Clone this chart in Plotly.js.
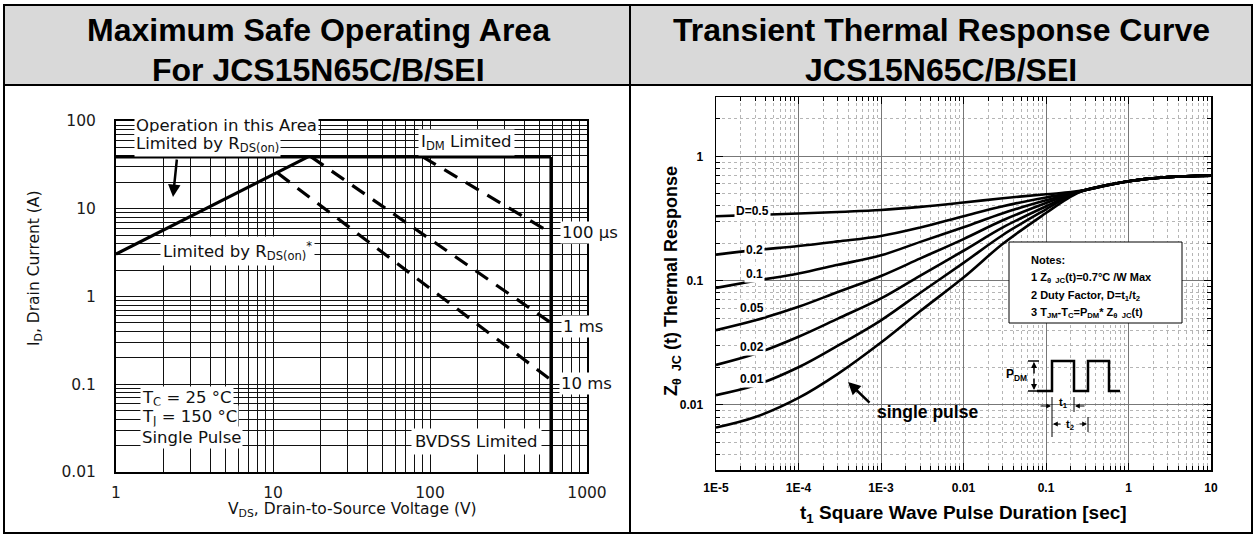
<!DOCTYPE html>
<html><head><meta charset="utf-8">
<script src="https://cdn.plot.ly/plotly-3.0.1.min.js"></script>
<style>html,body{margin:0;padding:0;background:#fff}#c{width:1256px;height:536px}</style>
</head><body><div id="c"></div>
<script>
// ---------------- DATA ----------------
// Left chart: Maximum Safe Operating Area (VDS in V, ID in A)
const soaXTicks = [1, 10, 100, 1000];
const soaXTickText = ['1', '10', '100', '1000'];
const soaYTicks = [0.01, 0.1, 1, 10, 100];
const soaYTickText = ['0.01', '0.1', '1', '10', '100'];
const rdsV = [1, 16.7];      const rdsI = [3.05, 39];
const idmV = [1, 590];       const idmI = [39, 39];
const bvV = [590, 590];      const bvI = [39, 0.01];
const us100V = [90, 590];    const us100I = [39, 5.3];
const ms1V = [17.5, 590];    const ms1I = [39, 0.5];
const ms10V = [10.7, 590];   const ms10I = [25.5, 0.112];

// Right chart: Transient Thermal Response (t in s, Z normalized)
const ttrT =    [1e-5,   3e-5,   1e-4,   3e-4,   1e-3,   3e-3,  0.01,  0.03,  0.1,   0.2,   0.3,   1,    3,    10];
const zD05 =    [0.330,  0.338,  0.347,  0.357,  0.370,  0.392, 0.425, 0.460, 0.495, 0.515, 0.535, 0.63, 0.68, 0.70];
const zD02 =    [0.162,  0.176,  0.190,  0.207,  0.229,  0.268, 0.330, 0.397, 0.467, 0.505, 0.535, 0.63, 0.68, 0.70];
const zD01 =    [0.0875, 0.0997, 0.114,  0.134,  0.160,  0.205, 0.269, 0.349, 0.443, 0.500, 0.535, 0.63, 0.68, 0.70];
const zD005 =   [0.040,  0.048,  0.0616, 0.081,  0.109,  0.151, 0.216, 0.306, 0.421, 0.495, 0.535, 0.63, 0.68, 0.70];
const zD002 =   [0.021,  0.0258, 0.0354, 0.0495, 0.072,  0.110, 0.174, 0.268, 0.397, 0.490, 0.535, 0.63, 0.68, 0.70];
const zD001 =   [0.012,  0.0144, 0.0201, 0.0300, 0.048,  0.080, 0.139, 0.233, 0.375, 0.485, 0.535, 0.63, 0.68, 0.70];
const zSingle = [0.00658,0.0080, 0.0114, 0.0178, 0.0318, 0.0570,0.106, 0.198, 0.350, 0.475, 0.535, 0.63, 0.68, 0.70];
const ttrXTicks = [1e-5, 1e-4, 1e-3, 0.01, 0.1, 1, 10];
const ttrXTickText = ['1E-5', '1E-4', '1E-3', '0.01', '0.1', '1', '10'];
const ttrYTicks = [0.01, 0.1, 1];
const ttrYTickText = ['0.01', '0.1', '1'];

// ---------------- HELPERS ----------------
const W = 1256, H = 536;
const F = 'Liberation Sans, Arial, Helvetica, sans-serif';
const FL = 'DejaVu Sans, Liberation Sans, sans-serif';
const px = x => x / W;
const py = y => 1 - y / H;
function minorVals(k0, k1) {
  const out = [];
  for (let k = k0; k <= k1; k++) for (let d = 2; d <= 9; d++) out.push(d * Math.pow(10, k));
  return out;
}
function A(text, x, y, o) {
  const base = {text, x: px(x), y: py(y), xref: 'paper', yref: 'paper', showarrow: false,
    xanchor: 'center', yanchor: 'middle', font: {family: F, size: 15, color: '#111'}};
  return Object.assign(base, o || {});
}
function AR(hx, hy, tx, ty, w, size, head) {
  return {text: '', x: px(hx), y: py(hy), xref: 'paper', yref: 'paper', showarrow: true,
    ax: tx - hx, ay: ty - hy, axref: 'pixel', ayref: 'pixel',
    arrowhead: head || 2, arrowsize: size || 1, arrowwidth: w || 2, arrowcolor: '#000'};
}
function L(x0, y0, x1, y1, w) {
  return {type: 'line', xref: 'paper', yref: 'paper', x0: px(x0), y0: py(y0), x1: px(x1), y1: py(y1),
    line: {color: '#000', width: w || 1}, layer: 'above'};
}

// ---------------- TRACES ----------------
const solid = {color: '#000', width: 3.2};
const dashed = {color: '#000', width: 3.2, dash: '15px,10px'};
const curve = {color: '#000', width: 2.6, shape: 'spline', smoothing: 1};
const traces = [
  {x: idmV, y: idmI, mode: 'lines', line: solid, xaxis: 'x', yaxis: 'y', name: 'IDM'},
  {x: bvV, y: bvI, mode: 'lines', line: solid, xaxis: 'x', yaxis: 'y', name: 'BVDSS'},
  {x: rdsV, y: rdsI, mode: 'lines', line: solid, xaxis: 'x', yaxis: 'y', name: 'RDS(on)'},
  {x: us100V, y: us100I, mode: 'lines', line: dashed, xaxis: 'x', yaxis: 'y', name: '100 µs'},
  {x: ms1V, y: ms1I, mode: 'lines', line: dashed, xaxis: 'x', yaxis: 'y', name: '1 ms'},
  {x: ms10V, y: ms10I, mode: 'lines', line: dashed, xaxis: 'x', yaxis: 'y', name: '10 ms'},
  {x: ttrT, y: zD05, mode: 'lines', line: curve, xaxis: 'x2', yaxis: 'y2', name: 'D=0.5'},
  {x: ttrT, y: zD02, mode: 'lines', line: curve, xaxis: 'x2', yaxis: 'y2', name: '0.2'},
  {x: ttrT, y: zD01, mode: 'lines', line: curve, xaxis: 'x2', yaxis: 'y2', name: '0.1'},
  {x: ttrT, y: zD005, mode: 'lines', line: curve, xaxis: 'x2', yaxis: 'y2', name: '0.05'},
  {x: ttrT, y: zD002, mode: 'lines', line: curve, xaxis: 'x2', yaxis: 'y2', name: '0.02'},
  {x: ttrT, y: zD001, mode: 'lines', line: curve, xaxis: 'x2', yaxis: 'y2', name: '0.01'},
  {x: ttrT, y: zSingle, mode: 'lines', line: curve, xaxis: 'x2', yaxis: 'y2', name: 'single pulse'}
];

// ---------------- AXES ----------------
const soaGrid = '#111';
const leftX = {type: 'log', domain: [px(116), px(587)], range: [0, 3], anchor: 'y',
  tickmode: 'array', tickvals: soaXTicks, ticktext: soaXTickText, ticks: '',
  showline: true, linecolor: '#000', linewidth: 2, mirror: true, zeroline: false,
  showgrid: true, gridcolor: soaGrid, gridwidth: 1,
  minor: {tickmode: 'array', tickvals: minorVals(0, 2), showgrid: true, gridcolor: soaGrid, gridwidth: 1, ticks: ''},
  tickfont: {family: FL, size: 15.5, color: '#1a1a1a'}, ticklabelstandoff: 5, fixedrange: true};
const leftY = {type: 'log', domain: [py(472), py(121)], range: [-2, 2], anchor: 'x',
  tickmode: 'array', tickvals: soaYTicks, ticktext: soaYTickText, ticks: '',
  showline: true, linecolor: '#000', linewidth: 2, mirror: true, zeroline: false,
  showgrid: true, gridcolor: soaGrid, gridwidth: 1,
  minor: {tickmode: 'array', tickvals: minorVals(-2, 1), showgrid: true, gridcolor: soaGrid, gridwidth: 1, ticks: ''},
  tickfont: {family: FL, size: 15.5, color: '#1a1a1a'}, ticklabelstandoff: 15, fixedrange: true};
const rFont = {family: F, size: 12, color: '#000', weight: 'bold'};
const rightX = {type: 'log', domain: [px(716), px(1211)], range: [-5, 1], anchor: 'y2',
  tickmode: 'array', tickvals: ttrXTicks, ticktext: ttrXTickText,
  ticks: 'inside', ticklen: 7, tickwidth: 1, tickcolor: '#000', mirror: 'allticks',
  showline: true, linecolor: '#000', linewidth: 1.5, zeroline: false,
  showgrid: true, gridcolor: '#777', gridwidth: 1,
  minor: {tickmode: 'array', tickvals: minorVals(-5, 0), ticks: 'inside', ticklen: 4, tickcolor: '#000',
    showgrid: true, gridcolor: '#b5b5b5', griddash: 'dot', gridwidth: 1},
  tickfont: rFont, ticklabelstandoff: 6, fixedrange: true};
const rightY = {type: 'log', domain: [py(470), py(97)], range: [Math.log10(0.003), Math.log10(3)], anchor: 'x2',
  tickmode: 'array', tickvals: ttrYTicks, ticktext: ttrYTickText,
  ticks: 'inside', ticklen: 7, tickwidth: 1, tickcolor: '#000', mirror: 'allticks',
  showline: true, linecolor: '#000', linewidth: 1.5, zeroline: false,
  showgrid: true, gridcolor: '#777', gridwidth: 1,
  minor: {tickmode: 'array', tickvals: minorVals(-3, 0), ticks: 'inside', ticklen: 4, tickcolor: '#000',
    showgrid: true, gridcolor: '#b5b5b5', griddash: 'dot', gridwidth: 1},
  tickfont: rFont, ticklabelstandoff: 9, fixedrange: true};

// ---------------- SHAPES ----------------
const shapes = [
  {type: 'rect', xref: 'paper', yref: 'paper', x0: px(4), y0: py(5), x1: px(1252), y1: py(85),
    fillcolor: '#d9d9d9', line: {width: 0}, layer: 'below'},
  {type: 'rect', xref: 'paper', yref: 'paper', x0: px(4), y0: py(5), x1: px(1252), y1: py(533),
    line: {color: '#000', width: 2}, layer: 'above'},
  L(4, 85, 1252, 85, 2),
  L(630, 5, 630, 533, 2),
  // Notes box
  {type: 'rect', xref: 'paper', yref: 'paper', x0: px(1009), y0: py(242), x1: px(1182), y1: py(323),
    fillcolor: '#fff', line: {color: '#000', width: 1}, layer: 'above'},
  // pulse waveform
  {type: 'path', xref: 'paper', yref: 'paper', layer: 'above', line: {color: '#000', width: 2.5},
    path: 'M ' + [[1037, 391], [1052, 391], [1052, 361], [1074, 361], [1074, 391], [1088, 391], [1088, 361], [1109, 361], [1109, 391], [1120, 391]]
      .map(p => px(p[0]) + ',' + py(p[1])).join(' L ')},
  L(1028, 361, 1039, 361, 1.5),
  L(1028, 391, 1039, 391, 1.5),
  L(1052, 397, 1052, 437, 1),
  L(1074, 397, 1074, 412, 1),
  L(1088, 417, 1088, 432, 1)
];

// ---------------- ANNOTATIONS ----------------
const bold = (s, c) => ({family: F, size: s, color: c || '#000', weight: 'bold'});
const lf = s => ({family: FL, size: s || 16.5, color: '#111'});
const wb = {bgcolor: '#fff', borderpad: 1};
const lwb = o => Object.assign({xanchor: 'left', font: lf(), bgcolor: '#fff', borderpad: 1}, o || {});
const annotations = [
  // headers
  A('Maximum Safe Operating Area', 318, 30, {font: bold(32)}),
  A('For JCS15N65C/B/SEI', 318, 70, {font: bold(32)}),
  A('Transient Thermal Response Curve', 941, 30, {font: bold(32)}),
  A('JCS15N65C/B/SEI', 941, 70, {font: bold(32)}),
  // left chart
  A('Operation in this Area', 134, 125, lwb()),
  A('Limited by R<sub>DS(on)</sub>', 134, 144, lwb()),
  AR(173, 197, 177, 158, 2.5, 1, 2),
  A('Limited by R<sub>DS(on)</sub><sup>*</sup>', 160, 251, lwb({borderpad: 2})),
  A('I<sub>DM</sub> Limited', 418, 142, lwb({borderpad: 2})),
  A('100 µs', 560, 233, lwb()),
  A('1 ms', 561, 326, lwb()),
  A('10 ms', 559, 383, lwb()),
  A('T<sub>C</sub> = 25 °C', 140, 398, lwb()),
  A('T<sub>J</sub> = 150 °C', 140, 417, lwb()),
  A('Single Pulse', 140, 437, lwb()),
  A('BVDSS Limited', 411, 441, lwb({borderpad: 3})),
  A('I<sub>D</sub>, Drain Current (A)', 35, 268, {textangle: -90, font: lf(15.5)}),
  A('V<sub>DS</sub>, Drain-to-Source Voltage (V)', 352, 510, {font: lf(15.5)}),
  // right chart labels
  A('D=0.5', 752, 211, Object.assign({font: bold(12)}, wb)),
  A('0.2', 755, 250, Object.assign({font: bold(12)}, wb)),
  A('0.1', 754, 274, Object.assign({font: bold(12)}, wb)),
  A('0.05', 752, 308, Object.assign({font: bold(12)}, wb)),
  A('0.02', 752, 347, Object.assign({font: bold(12)}, wb)),
  A('0.01', 752, 379, Object.assign({font: bold(12)}, wb)),
  A('single pulse', 927, 412, {font: bold(17.5)}),
  AR(848, 382, 871, 404, 2.5, 1, 2),
  A('Notes:', 1029, 260, {xanchor: 'left', font: bold(11)}),
  A('1 Z<sub>θ  JC</sub>(t)=0.7°C /W Max', 1029, 278, {xanchor: 'left', font: bold(11)}),
  A('2 Duty Factor, D=t<sub>1</sub>/t<sub>2</sub>', 1029, 296, {xanchor: 'left', font: bold(11)}),
  A('3 T<sub>JM</sub>-T<sub>C</sub>=P<sub>DM</sub>* Z<sub>θ  JC</sub>(t)', 1029, 313, {xanchor: 'left', font: bold(11)}),
  A('P<sub>DM</sub>', 1016, 375, {font: bold(12)}),
  AR(1034, 362, 1034, 375, 1.5, 0.8, 2),
  AR(1034, 390, 1034, 377, 1.5, 0.8, 2),
  AR(1051, 406, 1039, 406, 1.2, 0.8, 2),
  AR(1075, 406, 1086, 406, 1.2, 0.8, 2),
  A('t<sub>1</sub>', 1063, 403, {font: bold(11)}),
  AR(1053, 424, 1062, 424, 1.2, 0.8, 2),
  AR(1087, 424, 1078, 424, 1.2, 0.8, 2),
  A('t<sub>2</sub>', 1070, 425, {font: bold(11)}),
  A('Z<sub>θ  JC</sub> (t) Thermal Response', 672, 281, {textangle: -90, font: bold(18)}),
  A('t<sub>1</sub> Square Wave Pulse Duration [sec]', 963, 514, {font: bold(19)})
];

const layout = {
  width: W, height: H, margin: {l: 0, r: 0, t: 0, b: 0},
  paper_bgcolor: '#fff', plot_bgcolor: '#fff', showlegend: false,
  font: {family: F},
  xaxis: leftX, yaxis: leftY, xaxis2: rightX, yaxis2: rightY,
  shapes, annotations
};
Plotly.newPlot('c', traces, layout, {staticPlot: true, displayModeBar: false});
</script></body></html>
